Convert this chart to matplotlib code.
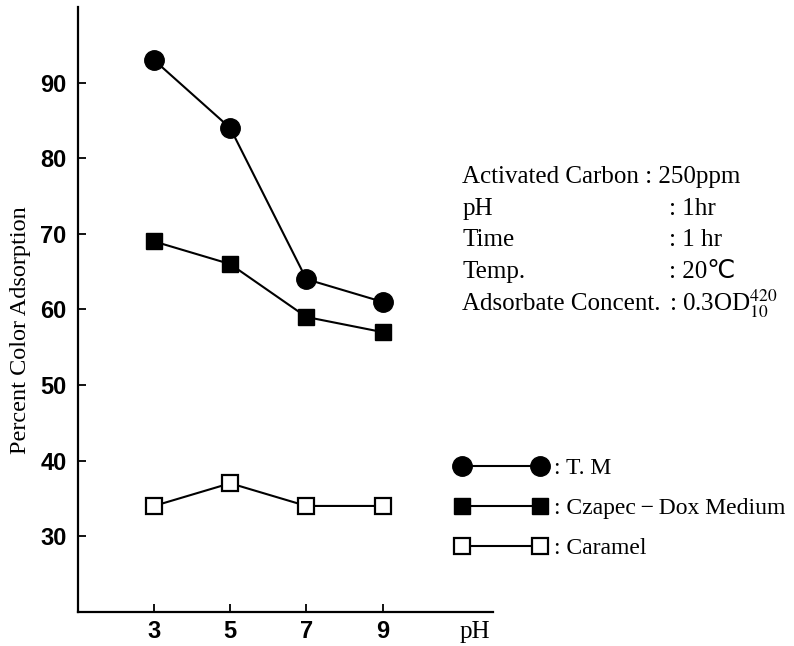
import numpy as np
import matplotlib
matplotlib.use('Agg')
import matplotlib.pyplot as plt

plt.rcParams['mathtext.fontset'] = 'stix'

# data
ph = [3, 5, 7, 9]
tm = [93, 84, 64, 61]
czapec = [69, 66, 59, 57]
caramel = [34, 37, 34, 34]
yticks = [30, 40, 50, 60, 70, 80, 90]

serif = ['Liberation Serif', 'DejaVu Sans']

fig = plt.figure(figsize=(7.94, 6.46), dpi=100)
ax = fig.add_axes([0.098, 0.053, 0.523, 0.936])

l1, = ax.plot(ph, tm, color='black', lw=1.5, marker='o', ms=14,
              mfc='black', mec='black')
l2, = ax.plot(ph, czapec, color='black', lw=1.5, marker='s', ms=12,
              mfc='black', mec='black')
l3, = ax.plot(ph, caramel, color='black', lw=1.5, marker='s', ms=11,
              mfc='white', mec='black', mew=1.6)

ax.set_xlim(1, 11.9)
ax.set_ylim(20, 100)
ax.set_xticks(ph)
ax.set_yticks(yticks)
for s in ['top', 'right']:
    ax.spines[s].set_visible(False)
for s in ['left', 'bottom']:
    ax.spines[s].set_linewidth(1.6)
ax.tick_params(axis='y', direction='in', length=6, width=1.3, pad=8)
ax.tick_params(axis='x', direction='in', length=6, width=1.3, pad=6)
for lab in ax.get_xticklabels() + ax.get_yticklabels():
    lab.set_fontfamily('Liberation Sans')
    lab.set_fontweight('bold')
    lab.set_fontsize(17)

ax.set_ylabel('Percent Color Adsorption', family=serif, fontsize=17.5)
ax.yaxis.set_label_coords(-0.112, 0.466)
fig.text(0.618, 0.004, 'pH', family=serif, fontsize=18, ha='right',
         va='bottom')

# conditions block
rows = [('pH', ': 1hr'), ('Time', ': 1 hr'), ('Temp.', ': 20\u2103'),
        ('Adsorbate Concent.', ': 0.3OD$^{420}_{10}$')]
fig.text(0.582, 0.726, 'Activated Carbon : 250ppm', family=serif,
         fontsize=18, va='center')
for i, (a, b) in enumerate(rows):
    y = 0.726 - (i + 1) * 0.049
    fig.text(0.582, y, a, family=serif, fontsize=18, va='center')
    fig.text(0.842, y, b, family=serif, fontsize=18, va='center')

leg = fig.legend([l1, l2, l3],
                 [': T. M', ': Czapec\u2009\u2212\u2009Dox Medium', ': Caramel'],
                 loc='upper left', bbox_to_anchor=(0.546, 0.324),
                 numpoints=2, handlelength=3.9, handletextpad=0.3,
                 labelspacing=0.78, frameon=False,
                 prop={'family': serif, 'size': 17})

fig.savefig('out.png', dpi=100)
